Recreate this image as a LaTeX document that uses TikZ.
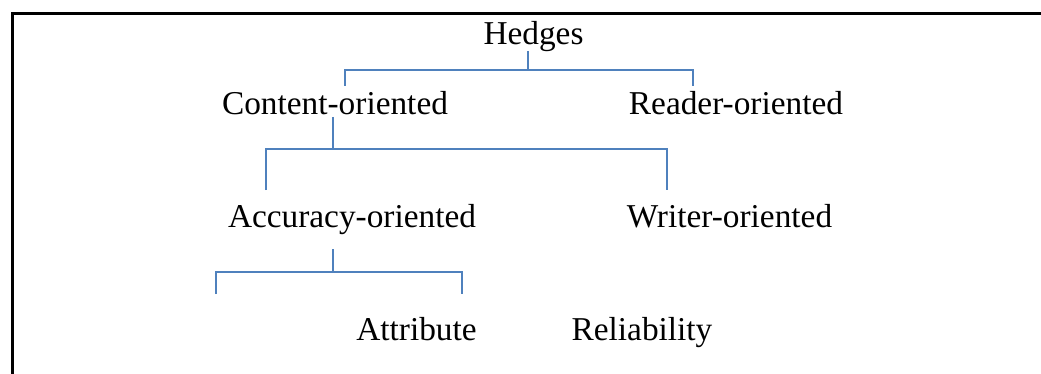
\documentclass[tikz,border=0pt]{standalone}
\usepackage{fontspec}
\setmainfont{Liberation Serif}
\usepackage{xcolor}
\usepackage{tikz}
\usetikzlibrary{positioning,calc}
\definecolor{branchblue}{HTML}{4F81BD}

\begin{document}
\begin{tikzpicture}[x=0.75pt,y=-0.75pt,
	term/.style={font=\fontsize{25}{30}\selectfont,inner sep=0pt,anchor=base},
	branch/.style={draw=branchblue,line width=1.5pt}]
	\useasboundingbox (0,0) rectangle (1041,374);
	\draw[line width=2.25pt] (12,374) -- (12,14) -- (1041,14);
	\draw
		(533.5,45) node[term](hedges){Hedges}
		(335,115) node[term](content){Content-oriented}
		(736,115) node[term](reader){Reader-oriented}
		(352,227) node[term](accuracy){Accuracy-oriented}
		(729.5,227) node[term](writer){Writer-oriented}
		(416.5,340) node[term](attribute){Attribute}
		(642,340) node[term](reliability){Reliability};
	% first level
	\coordinate (h-top) at (528,51);
	\coordinate (h-mid) at (528,70);
	\coordinate (h-left) at (345,86);
	\coordinate (h-right) at (693,86);
	\draw[branch] (h-top) -- (h-mid);
	\draw[branch] (h-left) |- (h-mid) -| (h-right);
	% second level
	\coordinate (c-top) at (333,117);
	\coordinate (c-mid) at (333,149);
	\coordinate (c-left) at (266,190);
	\coordinate (c-right) at (667,190);
	\draw[branch] (c-top) -- (c-mid);
	\draw[branch] (c-left) |- (c-mid) -| (c-right);
	% third level
	\coordinate (a-top) at (333,249);
	\coordinate (a-mid) at (333,272);
	\coordinate (a-left) at (216,294);
	\coordinate (a-right) at (462,294);
	\draw[branch] (a-top) -- (a-mid);
	\draw[branch] (a-left) |- (a-mid) -| (a-right);
\end{tikzpicture}
\end{document}
